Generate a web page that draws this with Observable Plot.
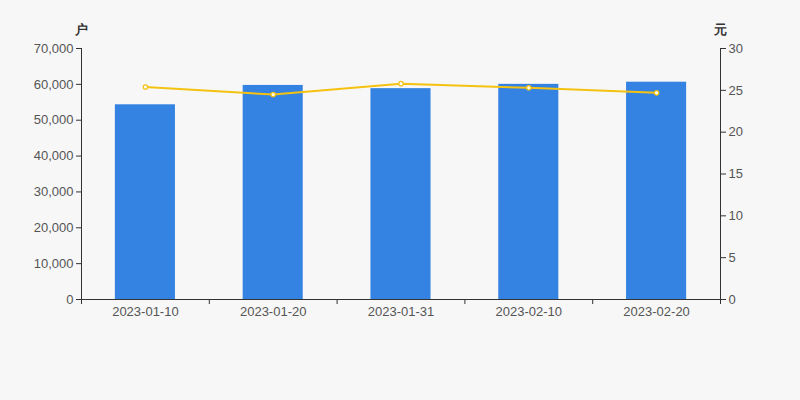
<!DOCTYPE html>
<html><head><meta charset="utf-8">
<script src="https://cdn.jsdelivr.net/npm/d3@7"></script>
<script src="https://cdn.jsdelivr.net/npm/@observablehq/plot@0.6"></script>
<style>
html,body{margin:0;padding:0;background:#f7f7f7;}
svg{font-family:"Liberation Sans",Arial,sans-serif;}
</style></head>
<body><div id="chart"></div>
<script>
const dates = ["2023-01-10","2023-01-20","2023-01-31","2023-02-10","2023-02-20"];
const holders = [54300, 59700, 58800, 60000, 60600];
const price = [25.4, 24.5, 25.8, 25.3, 24.7];
const leftTicks = [0,10000,20000,30000,40000,50000,60000,70000];
const rightTicks = [0,5,10,15,20,25,30];

const LMAX = 70000, RMAX = 30;
const toLeft = v => v * LMAX / RMAX;
const data = dates.map((d,i)=>({date:d, holders:holders[i], price:price[i], py:toLeft(price[i])}));

const W = 800, H = 400, mL = 81, mR = 80, mT = 48, mB = 101;
const step = (W - mL - mR) / dates.length;
const axisColor = "#333";
const txt = "#555";

const chart = Plot.plot({
  width: W, height: H,
  marginLeft: mL, marginRight: mR, marginTop: mT, marginBottom: mB,
  style: {background: "#f7f7f7", fontSize: "13px", fontFamily: "Liberation Sans, Arial, sans-serif"},
  x: {type: "band", domain: dates, paddingInner: 0.53, paddingOuter: 0.265, align: 0.5, round: false},
  y: {domain: [0, LMAX]},
  marks: [
    Plot.barY(data, {x: "date", y: "holders", fill: "#3482e1"}),
    Plot.lineY(data, {x: "date", y: "py", stroke: "#f5c211", strokeWidth: 2}),
    Plot.dot(data, {x: "date", y: "py", r: 2.2, fill: "white", stroke: "#f5c211", strokeWidth: 1.2}),
    // left axis
    Plot.axisY(leftTicks, {anchor: "left", tickSize: 5, tickPadding: 3, tickFormat: d => d3.format(",")(d), stroke: axisColor, fill: txt, label: null, fontSize: 13}),
    Plot.ruleX(dates.slice(0, 1), {x: d => d, dx: -step/2, y1: 0, y2: LMAX, stroke: axisColor}),
    // right axis
    Plot.axisY(rightTicks.map(toLeft), {anchor: "right", tickSize: 5, tickPadding: 3, tickFormat: d => String(Math.round(d * RMAX / LMAX)), stroke: axisColor, fill: txt, label: null, fontSize: 13}),
    Plot.ruleX(dates.slice(-1), {x: d => d, dx: step/2, y1: 0, y2: LMAX, stroke: axisColor}),
    // bottom axis
    Plot.axisX({tickSize: 0, tickPadding: 7, fill: txt, label: null, fontSize: 13}),
    Plot.ruleY([0], {stroke: axisColor}),
    Plot.ruleX(dates, {x: d => d, dx: -step/2, y1: 0, y2: 0, insetBottom: -5, stroke: axisColor}),
    Plot.ruleX(dates.slice(-1), {x: d => d, dx: step/2, y1: 0, y2: 0, insetBottom: -5, stroke: axisColor}),
    // unit labels
    Plot.text(["户"], {frameAnchor: "top-left", textAnchor: "middle", dy: -24, fontSize: 13, fill: "#333", fontWeight: "bold"}),
    Plot.text(["元"], {frameAnchor: "top-right", textAnchor: "middle", dy: -24, fontSize: 13, fill: "#333", fontWeight: "bold"})
  ]
});
document.getElementById("chart").appendChild(chart);
</script>
</body></html>
